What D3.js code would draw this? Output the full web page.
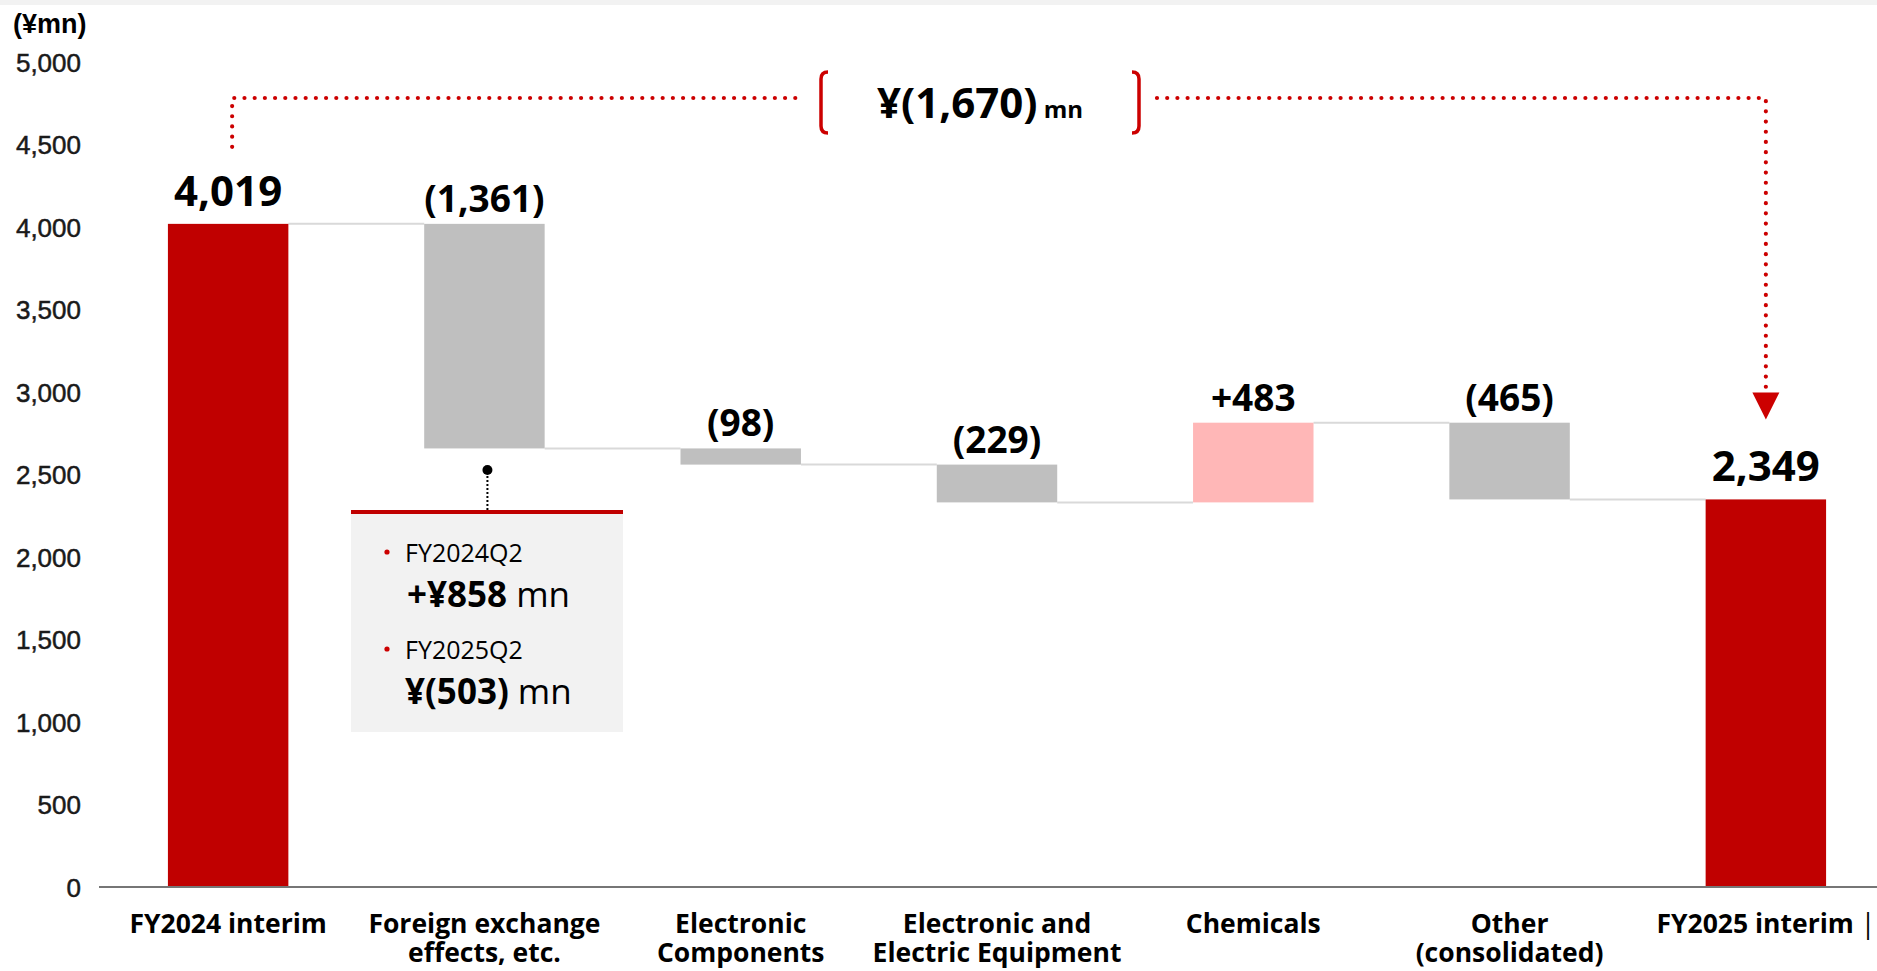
<!DOCTYPE html>
<html>
<head>
<meta charset="utf-8">
<script src="https://cdn.jsdelivr.net/npm/d3@7"></script>
<style>
  body { margin: 0; background: #fff; }
  svg { display: block; }
</style>
</head>
<body>
<svg id="chart" width="1877" height="971"></svg>
<script>
// Operating profit bridge, FY2024 interim -> FY2025 interim (¥mn)
const categories = [
  "FY2024 interim",
  "Foreign exchange\neffects, etc.",
  "Electronic\nComponents",
  "Electronic and\nElectric Equipment",
  "Chemicals",
  "Other\n(consolidated)",
  "FY2025 interim"
];
const kinds = ["total", "delta", "delta", "delta", "delta", "delta", "total"];
const values = [4019, -1361, -98, -229, 483, -465, 2349];
const yTicks = [0, 500, 1000, 1500, 2000, 2500, 3000, 3500, 4000, 4500, 5000];
const fxQuarters = ["FY2024Q2", "FY2025Q2"];
const fxQuarterValues = [858, -503];

const RED = "#c00000";
const DOT_RED = "#cc0000";
const GREY = "#bfbfbf";
const PINK = "#ffb7b7";
const FONT = "'Open Sans', 'Noto Sans', sans-serif";

const svg = d3.select("#chart");

// thin band along the top edge
svg.append("rect").attr("x", 0).attr("y", 0).attr("width", 1877).attr("height", 5).attr("fill", "#f2f2f2");

const x = d3.scaleBand().domain(categories).range([100, 1894]).paddingInner(0.53).paddingOuter(0.265);
const y = d3.scaleLinear().domain([0, 5000]).range([887, 62]);
const bw = x.bandwidth();

// running totals -> floating segments
let running = 0;
const bars = categories.map((c, i) => {
  let start, end;
  if (kinds[i] === "total") { start = 0; end = values[i]; running = values[i]; }
  else { start = running; end = running + values[i]; running = end; }
  return { cat: c, kind: kinds[i], value: values[i], start, end, level: running };
});

// y axis labels
const yAxis = d3.axisLeft(y).tickValues(yTicks).tickSize(0).tickPadding(3).tickFormat(d3.format(","));
const gy = svg.append("g").attr("transform", "translate(84,0)").call(yAxis);
gy.select(".domain").remove();
gy.selectAll("text")
  .attr("font-family", "'Liberation Sans', Arial, sans-serif")
  .attr("font-size", 26)
  .attr("fill", "#1a1a1a")
  .attr("stroke", "#1a1a1a").attr("stroke-width", 0.5)
  .attr("dy", "0.36em");

svg.append("text").attr("x", 13).attr("y", 33)
  .attr("font-family", "'Liberation Sans', Arial, sans-serif")
  .attr("font-weight", "bold").attr("font-size", 27).attr("fill", "#000")
  .text("(¥mn)");

// connectors between consecutive bars
svg.append("g").selectAll("line").data(bars.slice(0, -1)).join("line")
  .attr("x1", (d) => x(d.cat) + bw)
  .attr("x2", (d, i) => x(categories[i + 1]))
  .attr("y1", (d) => y(d.level)).attr("y2", (d) => y(d.level))
  .attr("stroke", "#d9d9d9").attr("stroke-width", 2);

// bars
svg.append("g").selectAll("rect").data(bars).join("rect")
  .attr("x", (d) => x(d.cat))
  .attr("width", bw)
  .attr("y", (d) => y(Math.max(d.start, d.end)))
  .attr("height", (d) => Math.abs(y(d.start) - y(d.end)))
  .attr("fill", (d) => d.kind === "total" ? RED : (d.value > 0 ? PINK : GREY));

// value labels
const fmt = d3.format(",");
const labelText = (d) => d.kind === "total" ? fmt(d.value)
  : d.value > 0 ? "+" + fmt(d.value) : "(" + fmt(-d.value) + ")";
svg.append("g").selectAll("text").data(bars).join("text")
  .attr("x", (d) => x(d.cat) + bw / 2)
  .attr("y", (d) => y(Math.max(d.start, d.end)) - (d.kind === "total" ? 18 : 12))
  .attr("text-anchor", "middle")
  .attr("font-family", FONT).attr("font-weight", "bold")
  .attr("font-size", (d) => d.kind === "total" ? 42 : 37)
  .attr("fill", "#000")
  .text(labelText);

// x axis
const xAxis = d3.axisBottom(x).tickSize(0).tickSizeOuter(0).tickFormat("");
const gx = svg.append("g").attr("transform", "translate(0,887)").call(xAxis);
gx.select(".domain").attr("stroke", "#767676").attr("stroke-width", 2).attr("d", "M99,0H1877");
gx.selectAll(".tick").each(function (c, i) {
  const tick = d3.select(this);
  c.split("\n").forEach((line, k) => {
    const t = tick.append("text")
      .attr("text-anchor", "middle")
      .attr("x", 0).attr("y", 46 + k * 29)
      .attr("font-family", FONT).attr("font-weight", "bold").attr("font-size", 26.5)
      .attr("fill", "#000")
      .text(line);
    if (i === categories.length - 1 && k === 0) {
      t.append("tspan").attr("font-weight", "normal").text(" |");
    }
  });
});

// total change annotation across the top
const totalChange = values[values.length - 1] - values[0];
const xl = x(categories[0]) + bw / 2 + 4;
const xr = x(categories[categories.length - 1]) + bw / 2;
const dotted = { stroke: DOT_RED, "stroke-width": 4.2, "stroke-linecap": "round", "stroke-dasharray": "0 10.2", fill: "none" };
const dl = svg.append("path").attr("d", `M${xl},${y(values[0]) - 77}V98H805`);
const dr = svg.append("path").attr("d", `M1157,98H${xr}V${y(values[values.length - 1]) - 108}`);
[dl, dr].forEach((p) => Object.entries(dotted).forEach(([k, v]) => p.attr(k, v)));
svg.append("path")
  .attr("d", `M${xr - 13.5},${y(values[values.length - 1]) - 107}L${xr + 13.5},${y(values[values.length - 1]) - 107}L${xr},${y(values[values.length - 1]) - 80}Z`)
  .attr("fill", DOT_RED);

svg.append("path").attr("d", "M828,72Q821,72 821,79L821,126Q821,133 828,133")
  .attr("fill", "none").attr("stroke", DOT_RED).attr("stroke-width", 3.5);
svg.append("path").attr("d", "M1132,72Q1139,72 1139,79L1139,126Q1139,133 1132,133")
  .attr("fill", "none").attr("stroke", DOT_RED).attr("stroke-width", 3.5);

const tc = svg.append("text").attr("x", 980).attr("y", 118).attr("text-anchor", "middle")
  .attr("font-family", FONT).attr("font-weight", "bold").attr("fill", "#000");
tc.append("tspan").attr("font-size", 42)
  .text("¥" + (totalChange < 0 ? "(" + fmt(-totalChange) + ")" : "+" + fmt(totalChange)));
tc.append("tspan").attr("font-size", 24).text(" mn");

// foreign-exchange breakdown callout
const fxCx = x(categories[1]) + bw / 2 + 3;
svg.append("line").attr("x1", fxCx).attr("x2", fxCx).attr("y1", 472).attr("y2", 510)
  .attr("stroke", "#000").attr("stroke-width", 2).attr("stroke-dasharray", "2 2");
svg.append("circle").attr("cx", fxCx).attr("cy", 470).attr("r", 5).attr("fill", "#000");
svg.append("rect").attr("x", 351).attr("y", 510).attr("width", 272).attr("height", 222).attr("fill", "#f2f2f2");
svg.append("rect").attr("x", 351).attr("y", 510).attr("width", 272).attr("height", 4).attr("fill", RED);

const money = (v) => (v >= 0 ? "+¥" + fmt(v) : "¥(" + fmt(-v) + ")");
fxQuarters.forEach((q, i) => {
  const top = 562 + i * 97;
  svg.append("circle").attr("cx", 387).attr("cy", top - 10).attr("r", 2.6).attr("fill", DOT_RED);
  svg.append("text").attr("x", 405).attr("y", top)
    .attr("font-family", FONT).attr("font-size", 25).attr("fill", "#000").text(q);
  const t = svg.append("text").attr("x", fxQuarterValues[i] >= 0 ? 407 : 405).attr("y", top + 45)
    .attr("font-family", FONT).attr("font-size", 35).attr("fill", "#000");
  t.append("tspan").attr("font-weight", "bold").text(money(fxQuarterValues[i]));
  t.append("tspan").text(" mn");
});
</script>
</body>
</html>
